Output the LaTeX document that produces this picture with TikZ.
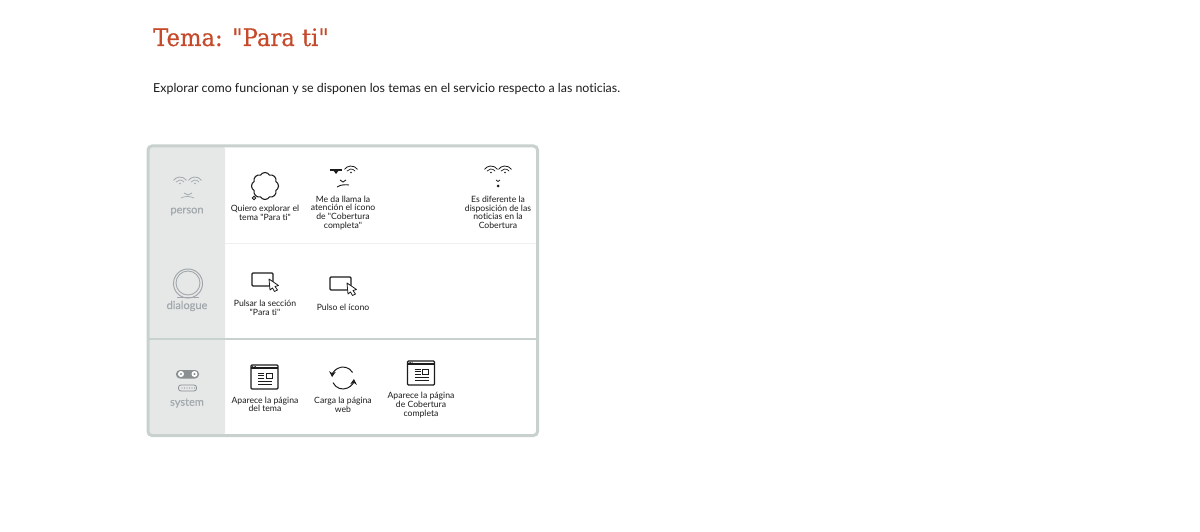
\documentclass[tikz,border=0pt]{standalone}
\usepackage{fontspec}
\setmainfont[Ligatures={TeX,CommonOff}]{Lato}
\newfontfamily\lanefont[Ligatures=CommonOff,FakeBold=0.3]{Lato}
\newfontfamily\captionfont[Ligatures=CommonOff]{Lato}
\newfontfamily\titlefont[FakeStretch=0.945,FakeBold=0.25]{DejaVu Serif}
\usetikzlibrary{positioning,shapes.symbols,arrows.meta}
\definecolor{titlered}{HTML}{C5492A}
\definecolor{framegray}{HTML}{C9D1CF}
\definecolor{sidegray}{HTML}{E6E8E8}
\definecolor{lanegray}{HTML}{A2A8AC}
\definecolor{inkgray}{HTML}{1C1C1C}
\tikzset{
  caption/.style={align=center, inner sep=0pt, text=inkgray, font=\captionfont\fontsize{8.65}{8.6}\selectfont},
  lanelabel/.style={inner sep=0pt, text=lanegray, font=\lanefont\fontsize{11}{12}\selectfont},
  refresharrow/.style={inkgray, line width=1pt, -{Stealth[length=5.5pt, width=6.5pt]}},
  pics/eye/.style={
    code = {
        \foreach \r/\w in {8/0.8, 5/0.7} {
            \draw [#1, line width=\w pt] (35:\r pt) arc (35:145:\r pt);
        }
        \fill [#1] (0, -1.5) circle (0.9pt);
    }
  },
  pics/screen/.style={
    code = {
        \draw [inkgray, line width=1.2pt, rounded corners=1pt, fill=white] (-11, -7) rectangle (10, 6);
        \draw [inkgray, line width=0.8pt, fill=white, line join=round]
            (6, -1) -- (7, 10) -- (9.5, 8) -- (11.5, 11.5) -- (14.5, 10) -- (12, 6.5) -- (15.5, 5.5) -- cycle;
    }
  },
  pics/browser/.style={
    code = {
        \draw [inkgray, line width=1.3pt, rounded corners=1pt, fill=white] (-13.5, -12) rectangle (13.5, 12);
        \draw [inkgray, line width=1.2pt] (-13.5, -9) -- (13.5, -9);
        \foreach \x in {-12, -10.5, -9} {
            \fill [inkgray] (\x, -10.5) circle (0.5pt);
        }
        \foreach \y in {-4, -1.5, 1} {
            \draw [inkgray, line width=1pt] (-6.5, \y) -- (-0.5, \y);
        }
        \draw [inkgray, line width=1pt] (1.5, -4) rectangle (7.5, 1);
        \foreach \y in {4.5, 7} {
            \draw [inkgray, line width=1pt] (-6.5, \y) -- (7.5, \y);
        }
    }
  }
}
\begin{document}
\begin{tikzpicture}[x=1pt, y=-1pt]
    \useasboundingbox (0, 0) rectangle (1200, 532);
    \fill [white] (0, 0) rectangle (1200, 532);

    \node (title) [anchor=base west, inner sep=0pt, text=titlered, font=\titlefont\fontsize{24}{26}\selectfont] at (153, 46) {Tema: "Para ti"};
    \node (intro) [anchor=base west, inner sep=0pt, text=inkgray, font=\fontsize{12.4}{15}\selectfont] at (153, 92.5) {Explorar como funcionan y se disponen los temas en el servicio respecto a las noticias.};

    % board
    \fill [sidegray, rounded corners=3pt] (148, 146) rectangle (225, 435.5);
    \draw [sidegray!70!white, line width=0.6pt] (225, 243) -- (537, 243);
    \draw [framegray, line width=1.5pt] (148, 339) -- (537.5, 339);
    \draw [framegray, line width=3pt, rounded corners=4pt] (148, 146) rectangle (537.5, 435.5);

    \foreach \name/\ypos in {person/211.5, dialogue/306, system/403} {
        \node (\name) [lanelabel] at (187, \ypos) {\name};
    }

    % person row
    \draw pic at (180, 185) {eye={lanegray}};
    \draw pic at (195, 185) {eye={lanegray}};
    \draw [lanegray, line width=0.7pt] (184, 193) -- (188, 195) -- (192, 193) (181, 198) .. controls (185, 196) and (190, 196) .. (194, 198);
    \node (thought) [cloud, cloud puffs=8, cloud puff arc=120, aspect=1, draw=inkgray, line width=1.1pt, minimum width=27pt, minimum height=27pt, inner sep=0pt] at (265, 186) {};
    \node (bubble) [circle, draw=inkgray, line width=0.8pt, minimum size=3.5pt, inner sep=0pt] at (254, 198) {};
    \node (explore) [caption] at (265, 212.7) {Quiero explorar el\\tema "Para ti"};

    \draw [inkgray, line width=2pt] (330, 170.5) -- (342, 170.5);
    \fill [inkgray] (333, 170) -- (339, 170) -- (336, 174) -- cycle;
    \draw pic at (351, 174) {eye={inkgray}};
    \draw [inkgray, line width=0.9pt] (340, 180) -- (343, 182) -- (346, 180) (337, 187) .. controls (341, 184.5) and (345, 184.5) .. (349, 185);
    \node (attention) [caption] at (343, 212.8) {Me da llama la\\atención el ícono\\de "Cobertura\\completa"};

    \draw pic at (491, 174) {eye={inkgray}};
    \draw pic at (505, 174) {eye={inkgray}};
    \draw [inkgray, line width=0.8pt] (496, 180) -- (498, 181.5) -- (500, 180);
    \fill [inkgray] (498, 186) circle (1.5pt);
    \node (different) [caption] at (498, 212.2) {Es diferente la\\disposición de las\\noticias en la\\Cobertura};

    % dialogue row
    \draw [lanegray, line width=1pt] (188, 283.5) circle (14.5pt);
    \draw [lanegray, line width=0.9pt] (188, 283) circle (12pt);
    \draw [lanegray, line width=0.9pt] (177, 297.5) -- (199, 297.5);
    \draw pic at (263, 280) {screen};
    \node (section) [caption] at (265, 307.8) {Pulsar la sección\\"Para ti"};
    \draw pic at (341, 284) {screen};
    \node (icon) [caption] at (343, 307.5) {Pulso el ícono};

    % system row
    \fill [lanegray!85!black, rounded corners=4pt] (176, 370) rectangle (199, 378.5);
    \foreach \x in {181, 194.5} {
        \fill [white] (\x, 374) circle (3pt);
        \fill [lanegray!85!black] (\x, 374) circle (1.2pt);
    }
    \draw [lanegray!85!black, line width=0.8pt, rounded corners=2.5pt] (178.5, 385) rectangle (196.5, 391);
    \foreach \x in {182, 184.5, ..., 194.5} {
        \fill [lanegray!85!black] (\x, 388) circle (0.6pt);
    }
    \draw pic at (264.5, 377) {browser};
    \node (topic) [caption] at (265, 404.2) {Aparece la página\\del tema};

    \coordinate (refresh) at (343, 378);
    \draw [refresharrow] ([shift=(30:11pt)]refresh) arc (30:175:11pt);
    \draw [refresharrow] ([shift=(205:11pt)]refresh) arc (205:355:11pt);
    \node (load) [caption] at (343, 404.7) {Carga la página\\web};

    \draw pic at (421, 373) {browser};
    \node (coverage) [caption] at (421, 405) {Aparece la página\\de Cobertura\\completa};
\end{tikzpicture}
\end{document}
